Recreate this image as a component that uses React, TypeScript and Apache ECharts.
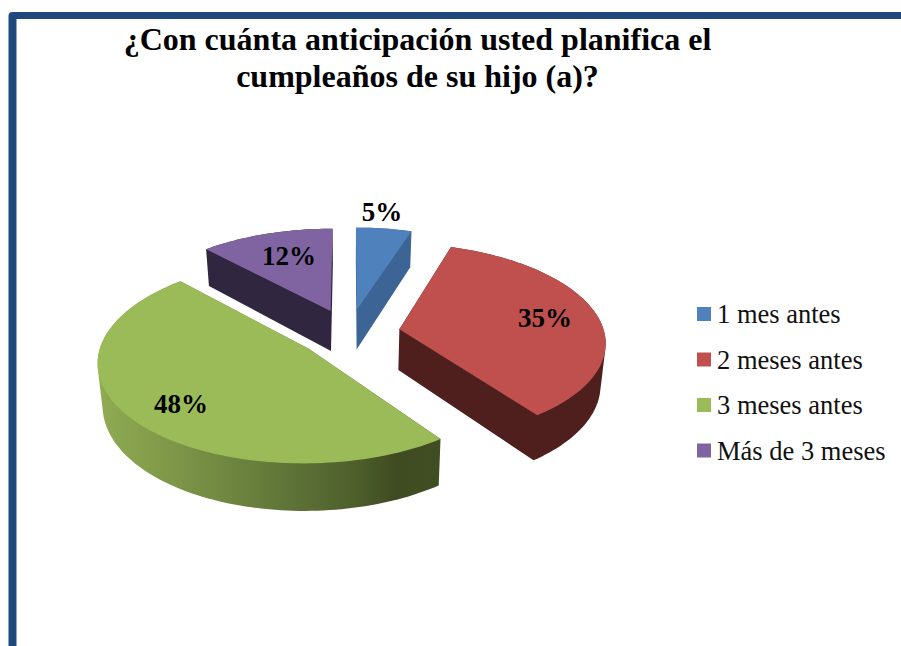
import React, { useEffect, useRef } from "react";
import * as echarts from "echarts";

const TITLE = "¿Con cuánta anticipación usted planifica el\ncumpleaños de su hijo (a)?";
const CATEGORIES = ["1 mes antes", "2 meses antes", "3 meses antes", "Más de 3 meses"];
const VALUES = [5, 35, 48, 12];

const TOP_COLORS = ["#4F81BD", "#C0504D", "#9BBB59", "#8064A2"];
const WALL_COLORS = ["#3C6494", "#4F1F1E", "#5F7538", "#31263F"];
const LABEL_XY = [[382, 212], [545, 318], [181, 404], [289, 256]];

// Perspective model of the tilted pie
const X0 = 349, Y0 = 333, RX = 205, RY = 97, PERSP = 0.1186, EXPLODE = 0.25, DEPTH = 41, BASE_SCALE = 0.98;
const SERIF = '"Liberation Serif", "Times New Roman", serif';
const rad = (d: number) => (d * Math.PI) / 180;

function project(u: number, v: number, down = false): number[] {
  const w = 1 - PERSP * v;
  return [X0 + ((RX * u) / w) * (down ? BASE_SCALE : 1), Y0 + (RY * v) / w + (down ? DEPTH / w : 0)];
}

// Outline of the extruded slice: monotone-chain convex hull of its projected points.
function hull(points: number[][]): number[][] {
  const p = points.slice().sort((a, b) => a[0] - b[0] || a[1] - b[1]);
  const cross = (o: number[], a: number[], b: number[]) =>
    (a[0] - o[0]) * (b[1] - o[1]) - (a[1] - o[1]) * (b[0] - o[0]);
  const half = (list: number[][]) => {
    const out: number[][] = [];
    for (const q of list) {
      while (out.length >= 2 && cross(out[out.length - 2], out[out.length - 1], q) <= 0) out.pop();
      out.push(q);
    }
    out.pop();
    return out;
  };
  return [...half(p), ...half(p.slice().reverse())];
}

function makeRenderItem(index: number) {
  return (_params: any, api: any) => {
    const total = VALUES.reduce((a, b) => a + b, 0);
    const before = VALUES.slice(0, index).reduce((a, b) => a + b, 0);
    const value = api.value(0);
    const a0 = (before / total) * 360;
    const a1 = ((before + value) / total) * 360;
    const mid = rad((a0 + a1) / 2);
    const eu = EXPLODE * Math.sin(mid);
    const ev = -EXPLODE * Math.cos(mid);
    const steps = Math.max(4, Math.ceil((a1 - a0) / 1.5));
    const uv: number[][] = [];
    for (let i = 0; i <= steps; i++) {
      const t = rad(a0 + ((a1 - a0) * i) / steps);
      uv.push([eu + Math.sin(t), ev - Math.cos(t)]);
    }
    const topArc = uv.map(([u, v]) => project(u, v));
    const lowArc = uv.map(([u, v]) => project(u, v, true));
    const apexTop = project(eu, ev);
    const apexLow = project(eu, ev, true);
    const wallFill: any =
      index === 2
        ? new echarts.graphic.LinearGradient(0, 0, 1, 0, [
            { offset: 0, color: "#8FAB52" },
            { offset: 0.12, color: "#86A04C" },
            { offset: 0.35, color: "#728A42" },
            { offset: 0.55, color: "#5F7538" },
            { offset: 0.75, color: "#4E5F2C" },
            { offset: 0.87, color: "#3F4B20" },
            { offset: 1, color: "#414D22" },
          ])
        : WALL_COLORS[index];
    const [lx, ly] = LABEL_XY[index];
    return {
      type: "group",
      children: [
        { type: "polygon", shape: { points: hull([apexTop, apexLow, ...topArc, ...lowArc]) }, style: { fill: wallFill } },
        { type: "polygon", shape: { points: [apexTop, ...topArc] }, style: { fill: TOP_COLORS[index] } },
        {
          type: "text",
          z2: 10,
          style: {
            text: `${value}%`,
            x: lx,
            y: ly,
            align: "center",
            verticalAlign: "middle",
            fontFamily: SERIF,
            fontWeight: "bold",
            fontSize: 27,
            fill: "#000",
          },
        },
      ],
    };
  };
}

export default function App() {
  const ref = useRef<HTMLDivElement>(null);
  useEffect(() => {
    document.body.style.margin = "0";
    const chart = echarts.init(ref.current!, undefined, { renderer: "svg" });
    chart.setOption({
      animation: false,
      backgroundColor: "#fff",
      title: {
        text: TITLE,
        left: 412.5,
        top: 15,
        padding: 5,
        textAlign: "center",
        textStyle: { fontFamily: SERIF, fontWeight: "bold", fontSize: 32, lineHeight: 37, color: "#000" },
      },
      legend: {
        orient: "vertical",
        left: 697,
        top: 300,
        padding: 0,
        itemWidth: 14,
        itemHeight: 14,
        itemGap: 17.5,
        icon: "rect",
        data: CATEGORIES,
        selectedMode: false,
        textStyle: { fontFamily: SERIF, fontSize: 26.5, color: "#111", padding: [0, 0, 0, 1], lineHeight: 28 },
      },
      graphic: [
        { type: "rect", z: -2, silent: true, shape: { x: 8.5, y: 12, width: 900, height: 640, r: 4 }, style: { fill: "#1F497D" } },
        { type: "rect", z: -1, silent: true, shape: { x: 16.5, y: 19, width: 900, height: 640 }, style: { fill: "#fff" } },
      ],
      series: CATEGORIES.map((name, i) => ({
        type: "custom",
        name,
        coordinateSystem: "none",
        silent: true,
        itemStyle: { color: TOP_COLORS[i] },
        data: [[VALUES[i]]],
        encode: { value: 0 },
        renderItem: makeRenderItem(i),
      })),
    });
    return () => chart.dispose();
  }, []);
  return <div ref={ref} style={{ position: "absolute", left: 0, top: 0, width: 901, height: 646 }} />;
}
